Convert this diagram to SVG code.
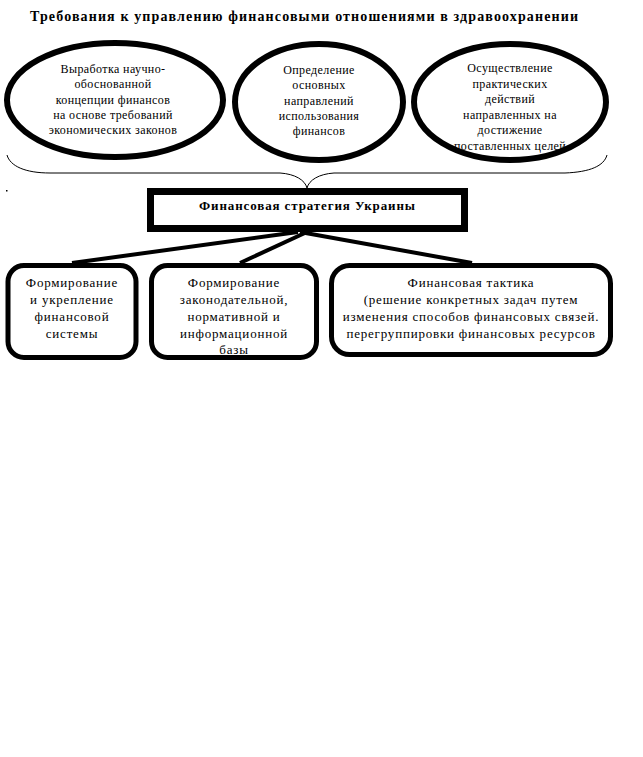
<svg xmlns="http://www.w3.org/2000/svg" width="643" height="757" viewBox="0 0 643 757">
<style>
.t{font-family:"Liberation Serif","Times New Roman","DejaVu Serif",serif;fill:#000;text-anchor:middle}
.e{font-size:12px;letter-spacing:0.4px}
.b{font-size:13px;letter-spacing:0.8px}
.bold{font-weight:bold}
.ell{fill:none;stroke:#000;stroke-width:6}
.box{fill:#fff;stroke:#000;stroke-width:5}
.conn{stroke:#000;stroke-width:4;fill:none}
</style>
<rect width="643" height="757" fill="#fff"/>
<g id="title">
<text class="t bold" x="304" y="21" font-size="14" textLength="548" lengthAdjust="spacing">Требования к управлению финансовыми отношениями в здравоохранении</text>
</g>
<g id="req1">
<text class="t e"><tspan x="113" y="73">Выработка научно-</tspan><tspan x="113" y="88">обоснованной</tspan><tspan x="113" y="104">концепции финансов</tspan><tspan x="113" y="119">на основе требований</tspan><tspan x="113" y="134">экономических законов</tspan></text>
<ellipse class="ell" cx="115" cy="100" rx="108" ry="57"/>
</g>
<g id="req2">
<text class="t e"><tspan x="319" y="74">Определение</tspan><tspan x="319" y="89">основных</tspan><tspan x="319" y="105">направлений</tspan><tspan x="319" y="120">использования</tspan><tspan x="319" y="135">финансов</tspan></text>
<ellipse class="ell" cx="319" cy="102" rx="84" ry="58"/>
</g>
<g id="req3">
<text class="t e"><tspan x="510" y="72">Осуществление</tspan><tspan x="510" y="88">практических</tspan><tspan x="510" y="103">действий</tspan><tspan x="510" y="119">направленных на</tspan><tspan x="510" y="134">достижение</tspan><tspan x="510" y="150">поставленных целей</tspan></text>
<ellipse class="ell" cx="510" cy="102" rx="96" ry="58"/>
</g>
<g id="connectors">
<path d="M7,155 C10,166 25,173 50,173 L280,173 C295,174 305,180 307,188 C309,180 319,174 334,173 L565,173 C590,172 604,166 607,155" fill="none" stroke="#000" stroke-width="1"/>
<line class="conn" x1="298" y1="232" x2="72" y2="263"/>
<line class="conn" x1="307" y1="232" x2="240" y2="263"/>
<line class="conn" x1="300" y1="232" x2="472" y2="263"/>
</g>
<rect x="6" y="190" width="1.5" height="1.5" fill="#000"/>
<g id="strategy">
<rect x="150.5" y="191.5" width="314" height="37" fill="#fff" stroke="#000" stroke-width="7"/>
<text class="t bold" x="307" y="210" font-size="13" textLength="216" lengthAdjust="spacing">Финансовая стратегия Украины</text>
</g>
<g id="b1">
<rect class="box" x="8" y="265.5" width="128" height="92" rx="16"/>
<text class="t b"><tspan x="72" y="287">Формирование</tspan><tspan x="72" y="304">и укрепление</tspan><tspan x="72" y="321">финансовой</tspan><tspan x="72" y="338">системы</tspan></text>
</g>
<g id="b2">
<rect class="box" x="151.5" y="265.5" width="165" height="92" rx="16"/>
<text class="t b"><tspan x="234" y="287">Формирование</tspan><tspan x="234" y="304">законодательной,</tspan><tspan x="234" y="321">нормативной и</tspan><tspan x="234" y="338">информационной</tspan><tspan x="234" y="354">базы</tspan></text>
</g>
<g id="b3">
<rect class="box" x="331.5" y="265.5" width="279" height="89" rx="18"/>
<text class="t b"><tspan x="471" y="287">Финансовая тактика</tspan><tspan x="471" y="304">(решение конкретных задач путем</tspan><tspan x="471" y="321">изменения способов финансовых связей.</tspan><tspan x="471" y="338">перегруппировки финансовых ресурсов</tspan></text>
</g>
</svg>
